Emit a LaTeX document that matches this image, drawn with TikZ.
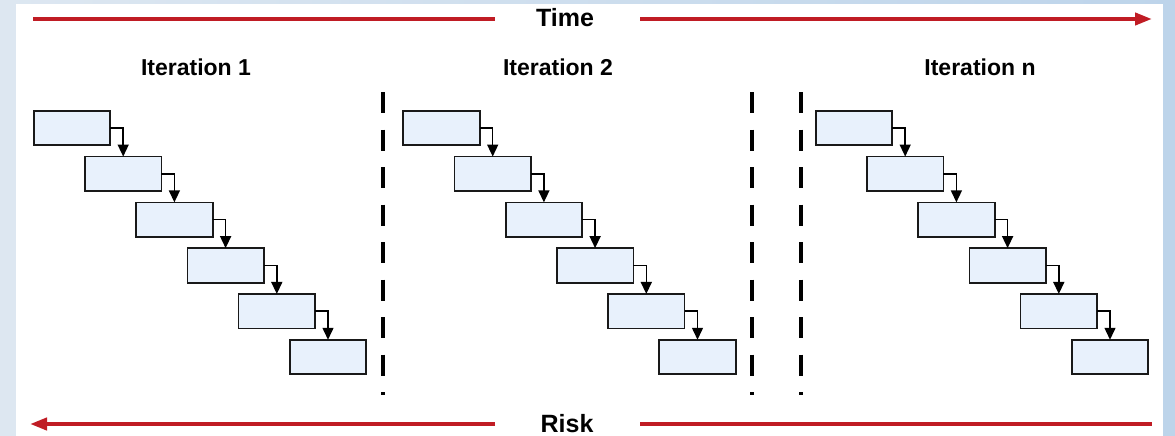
\documentclass[tikz,border=0pt]{standalone}
\usepackage{fontspec}
\setmainfont{Liberation Sans}
\usetikzlibrary{arrows.meta}
\definecolor{frameblueL}{RGB}{221,231,241}
\definecolor{frameblueR}{RGB}{189,212,234}
\definecolor{boxfill}{RGB}{232,241,252}
\definecolor{axisred}{RGB}{192,28,36}
\begin{document}
\begin{tikzpicture}[x=1pt,y=-1pt,
  stage/.style={draw=black!90, line width=1.7pt, fill=boxfill,
    minimum width=76.5pt, minimum height=34.5pt, inner sep=0pt, outer sep=0pt},
  flow/.style={draw=black, line width=1.5pt, -{Triangle[length=12pt,width=11pt]}},
  axis/.style={draw=axisred, line width=4pt},
  axishead/.style={axis, -{Triangle[length=17pt,width=12pt]}},
  divider/.style={draw=black, line width=4pt, dash pattern=on 21pt off 16.5pt},
  iterlabel/.style={font=\bfseries\fontsize{23}{23}\selectfont, anchor=base, inner sep=0pt},
  axislabel/.style={font=\bfseries\fontsize{25}{25}\selectfont, anchor=base, inner sep=0pt}]
% frame and white panel
\shade[left color=frameblueL, right color=frameblueR] (0,0) rectangle (1175,436);
\fill[white] (16,4) rectangle (1163,436);
\useasboundingbox (0,0) rectangle (1175,436);

% time axis
\node[axislabel] (time) at (565,27) {Time};
\coordinate (timeL) at (33,19);
\coordinate (timeA) at (495,19);
\coordinate (timeB) at (640,19);
\coordinate (timeR) at (1152,19);
\draw[axis] (timeL) -- (timeA);
\draw[axishead] (timeB) -- (timeR);

% risk axis
\node[axislabel] (risk) at (567,432) {Risk};
\coordinate (riskL) at (30,424);
\coordinate (riskA) at (495,424);
\coordinate (riskB) at (640,424);
\coordinate (riskR) at (1152,424);
\draw[axishead] (riskA) -- (riskL);
\draw[axis] (riskB) -- (riskR);

% iteration titles
\node[iterlabel] (t1) at (196,75) {Iteration 1};
\node[iterlabel] (t2) at (558,75) {Iteration 2};
\node[iterlabel] (tn) at (980,75) {Iteration n};

% waterfall stages of each iteration
\foreach \name/\x in {a/72, b/441.5, c/854} {
  \foreach \k in {0,...,5}
    \node[stage] (\name\k) at ({\x+51.2*\k},{128+45.8*\k}) {};
  \foreach \k [evaluate=\k as \n using int(\k+1)] in {0,...,4}
    \draw[flow] (\name\k.east) -| (\name\n.north);
}

% separators between iterations
\foreach \x [count=\i] in {383, 752, 801} {
  \coordinate (d\i top) at (\x,92);
  \coordinate (d\i bot) at (\x,395);
  \draw[divider] (d\i top) -- (d\i bot);
}
\end{tikzpicture}
\end{document}
